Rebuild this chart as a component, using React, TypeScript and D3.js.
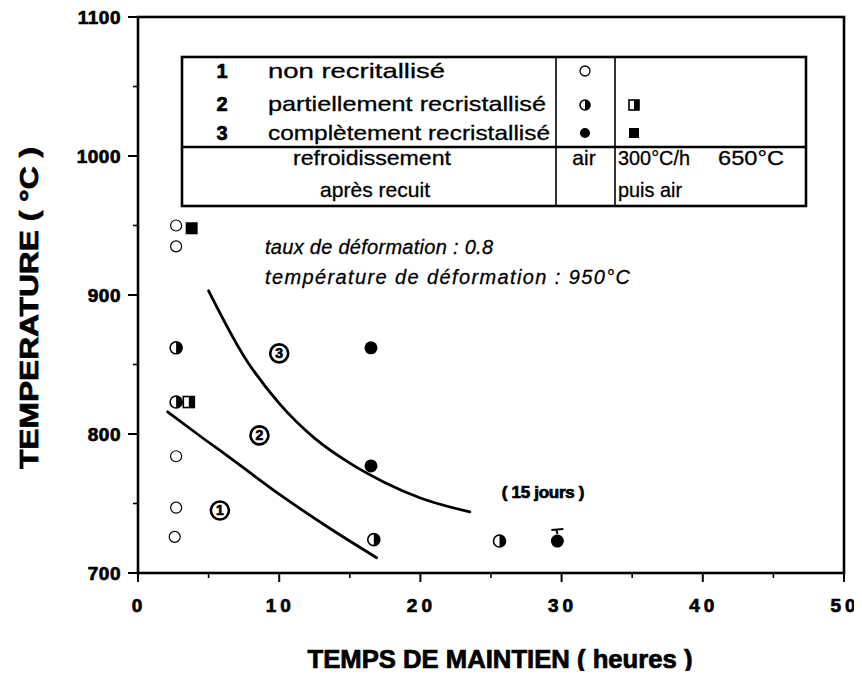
import { line, curveMonotoneX, scaleLinear } from 'd3';

// time (hours) / temperature (°C)
const openCircles = [
  { t: 2.7, temp: 950 },
  { t: 2.7, temp: 935 },
  { t: 2.7, temp: 784 },
  { t: 2.7, temp: 747 },
  { t: 2.6, temp: 726 },
];
const halfCircles = [
  { t: 2.7, temp: 862 },
  { t: 2.7, temp: 823 },
  { t: 16.7, temp: 724 },
  { t: 25.6, temp: 723 },
];
const filledCircles = [
  { t: 16.5, temp: 862 },
  { t: 16.5, temp: 777 },
  { t: 29.7, temp: 723 },
];
const halfSquares = [{ t: 3.6, temp: 823 }];
const filledSquares = [{ t: 3.8, temp: 948 }];

const regionLabels = [
  { label: '1', t: 5.8, temp: 745 },
  { label: '2', t: 8.6, temp: 799 },
  { label: '3', t: 10.0, temp: 858 },
];

const upperBoundary = [
  { t: 5.0, temp: 903 },
  { t: 7.5, temp: 856 },
  { t: 10.0, temp: 822 },
  { t: 12.5, temp: 797 },
  { t: 15.0, temp: 779 },
  { t: 17.5, temp: 765 },
  { t: 20.0, temp: 754 },
  { t: 23.5, temp: 744 },
];
const lowerBoundary = [
  { t: 2.1, temp: 816 },
  { t: 4.2, temp: 800 },
  { t: 6.5, temp: 783 },
  { t: 10.1, temp: 756 },
  { t: 13.6, temp: 732 },
  { t: 16.9, temp: 711 },
];

const xTicks = [0, 10, 20, 30, 40, 50];
const xMinorTicks = [5, 15, 25, 35, 45];
const yTicks = [700, 800, 900, 1000, 1100];
const yMinorTicks = [750, 850, 950, 1050];

const legendRows = [
  { num: '1', text: 'non recritallisé', len: 177 },
  { num: '2', text: 'partiellement recristallisé', len: 278 },
  { num: '3', text: 'complètement recristallisé', len: 282 },
];

const width = 862;
const height = 679;
const plot = { left: 138, right: 844, top: 17, bottom: 573 };
const font = '"Liberation Sans", Arial, Helvetica, sans-serif';

type Pt = { t: number; temp: number };

export default function App() {
  const x = scaleLinear().domain([0, 50]).range([plot.left, plot.right]);
  const y = scaleLinear().domain([700, 1100]).range([plot.bottom, plot.top]);

  const curve = line<Pt>()
    .x(d => x(d.t))
    .y(d => y(d.temp))
    .curve(curveMonotoneX);

  const halfCircle = (cx: number, cy: number, r: number, key: string) => (
    <g key={key}>
      <circle cx={cx} cy={cy} r={r} fill="#fff" stroke="#000" strokeWidth={1.6} />
      <path d={`M${cx},${cy - r} A${r},${r} 0 0 1 ${cx},${cy + r} Z`} fill="#000" />
    </g>
  );

  const halfSquare = (cx: number, cy: number, s: number, key: string) => (
    <g key={key}>
      <rect x={cx - s / 2} y={cy - s / 2} width={s} height={s} fill="#fff" stroke="#000" strokeWidth={1.6} />
      <rect x={cx} y={cy - s / 2} width={s / 2} height={s} fill="#000" />
    </g>
  );

  // legend table geometry
  const tb = { left: 182, right: 806, top: 57, mid: 147, bottom: 206, c1: 556, c2: 615 };
  const rowY = [71, 104, 133];
  const heavy = { fontWeight: 'bold' as const, stroke: '#000', strokeWidth: 0.7 };
  const stretch = { lengthAdjust: 'spacingAndGlyphs' as const };

  return (
    <div style={{ margin: -8, width, height, background: '#fff' }}>
      <svg width={width} height={height} style={{ display: 'block', fontFamily: font }}>
        <rect width={width} height={height} fill="#fff" />

        {/* frame */}
        <rect x={plot.left} y={plot.top} width={plot.right - plot.left} height={plot.bottom - plot.top}
          fill="none" stroke="#000" strokeWidth={2.6} />

        {/* y axis */}
        {yTicks.map(v => (
          <g key={v}>
            <line x1={plot.left - 10} x2={plot.left} y1={y(v)} y2={y(v)} stroke="#000" strokeWidth={2} />
            <text x={plot.left - 17} y={y(v) + 7} textAnchor="end" fontSize={19} letterSpacing={0.5} {...heavy}>{v}</text>
          </g>
        ))}
        {yMinorTicks.map(v => (
          <line key={v} x1={plot.left - 5} x2={plot.left} y1={y(v)} y2={y(v)} stroke="#000" strokeWidth={1.6} />
        ))}

        {/* x axis */}
        {xTicks.map(v => (
          <g key={v}>
            <line x1={x(v)} x2={x(v)} y1={plot.bottom} y2={plot.bottom + 9} stroke="#000" strokeWidth={2} />
            <text x={x(v) + 1} y={plot.bottom + 39} textAnchor="middle" fontSize={19} letterSpacing={4} {...heavy}>
              {v}
            </text>
          </g>
        ))}
        {xMinorTicks.map(v => (
          <line key={v} x1={x(v)} x2={x(v)} y1={plot.bottom} y2={plot.bottom + 5} stroke="#000" strokeWidth={1.6} />
        ))}

        <text x={500} y={668} textAnchor="middle" fontSize={25} textLength={385} {...stretch} {...heavy}>
          TEMPS DE MAINTIEN ( heures )
        </text>
        <text transform="translate(38,308) rotate(-90)" textAnchor="middle" fontSize={25} textLength={322}
          {...stretch} {...heavy}>
          TEMPERATURE ( °C )
        </text>

        {/* legend table */}
        <g stroke="#000" fill="none">
          <rect x={tb.left} y={tb.top} width={tb.right - tb.left} height={tb.bottom - tb.top} strokeWidth={2.6} />
          <line x1={tb.left} x2={tb.right} y1={tb.mid} y2={tb.mid} strokeWidth={2.6} />
          <line x1={tb.c1} x2={tb.c1} y1={tb.top} y2={tb.bottom} strokeWidth={1.6} />
          <line x1={tb.c2} x2={tb.c2} y1={tb.top} y2={tb.bottom} strokeWidth={1.6} />
        </g>
        {legendRows.map((r, i) => (
          <g key={r.num}>
            <text x={222} y={rowY[i] + 7} fontSize={20} textAnchor="middle" {...heavy}>{r.num}</text>
            <text x={268} y={rowY[i] + 7} fontSize={21} textLength={r.len} {...stretch} stroke="#000" strokeWidth={0.3}>
              {r.text}
            </text>
          </g>
        ))}
        <circle cx={585} cy={rowY[0]} r={5} fill="none" stroke="#000" strokeWidth={1.3} />
        {halfCircle(585, rowY[1] + 1, 5, 'lg-half')}
        <circle cx={585} cy={rowY[2]} r={5} fill="#000" />
        {halfSquare(634, rowY[1] + 1, 10, 'lg-hsq')}
        <rect x={629} y={rowY[2] - 5} width={10} height={10} fill="#000" />
        <g fontSize={21} stroke="#000" strokeWidth={0.3}>
          <text x={372} y={165} textAnchor="middle" textLength={158} {...stretch}>refroidissement</text>
          <text x={375} y={197} textAnchor="middle" textLength={110} {...stretch}>après recuit</text>
          <text x={584} y={165} textAnchor="middle">air</text>
          <text x={618} y={165} textLength={72} {...stretch}>300°C/h</text>
          <text x={718} y={165} textLength={66} {...stretch}>650°C</text>
          <text x={618} y={197} textLength={64} {...stretch}>puis air</text>
        </g>

        {/* annotations */}
        <g fontSize={20} fontStyle="italic" stroke="#000" strokeWidth={0.3}>
          <text x={265} y={254} textLength={228}>taux de déformation : 0.8</text>
          <text x={265} y={284} textLength={365}>température de déformation : 950°C</text>
        </g>
        <text x={543} y={498} fontSize={17} textAnchor="middle" letterSpacing={-0.3} {...heavy}>( 15 jours )</text>

        {/* boundary curves */}
        <path d={curve(upperBoundary) ?? ''} fill="none" stroke="#000" strokeWidth={2.8} strokeLinecap="round" />
        <path d={curve(lowerBoundary) ?? ''} fill="none" stroke="#000" strokeWidth={2.8} strokeLinecap="round" />

        {/* region labels */}
        {regionLabels.map(r => (
          <g key={r.label}>
            <circle cx={x(r.t)} cy={y(r.temp)} r={9} fill="#fff" stroke="#000" strokeWidth={2.6} />
            <text x={x(r.t)} y={y(r.temp) + 5} textAnchor="middle" fontSize={14} {...heavy}>{r.label}</text>
          </g>
        ))}

        {/* data */}
        {openCircles.map((d, i) => (
          <circle key={`o${i}`} cx={x(d.t)} cy={y(d.temp)} r={5.5} fill="#fff" stroke="#000" strokeWidth={1.2} />
        ))}
        {filledSquares.map((d, i) => (
          <rect key={`fs${i}`} x={x(d.t) - 6} y={y(d.temp) - 6} width={12} height={12} fill="#000" />
        ))}
        {halfCircles.map((d, i) => halfCircle(x(d.t), y(d.temp), 6, `h${i}`))}
        {halfSquares.map((d, i) => halfSquare(x(d.t), y(d.temp), 11, `hs${i}`))}
        {filledCircles.map((d, i) => (
          <circle key={`f${i}`} cx={x(d.t)} cy={y(d.temp)} r={6.5} fill="#000" />
        ))}
        {filledCircles.slice(2).map((d, i) => (
          <path key={`m${i}`} d={`M${x(d.t) - 6},${y(d.temp) - 11} L${x(d.t) + 6},${y(d.temp) - 12} M${x(d.t) - 1},${y(d.temp) - 12} L${x(d.t)},${y(d.temp) - 7}`}
            stroke="#000" strokeWidth={2} fill="none" />
        ))}
      </svg>
    </div>
  );
}
